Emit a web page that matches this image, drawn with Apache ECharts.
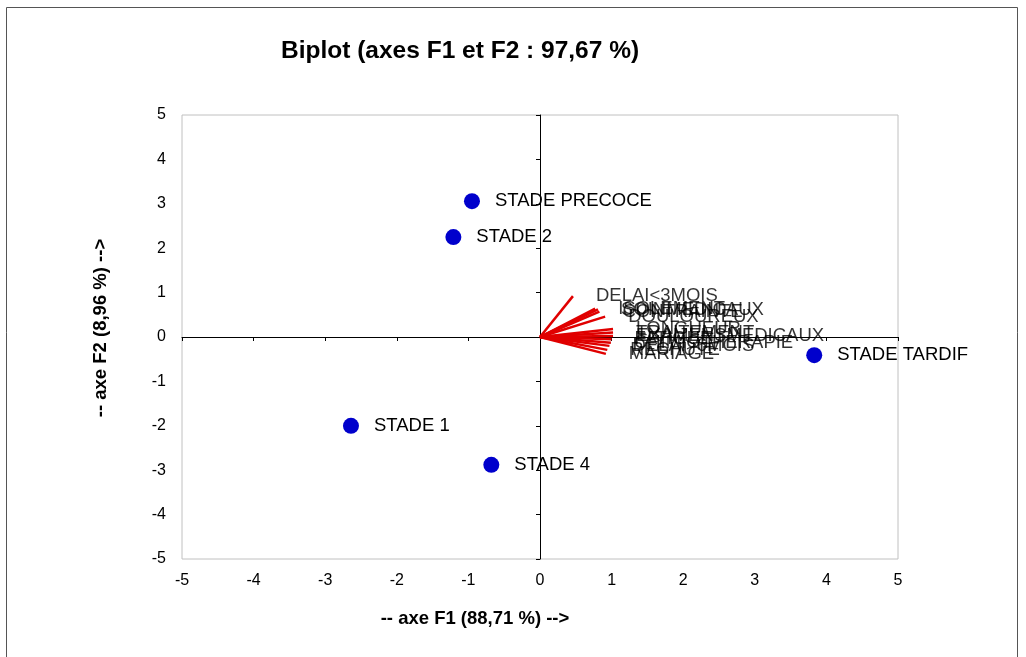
<!DOCTYPE html>
<html>
<head>
<meta charset="utf-8">
<script src="https://cdn.jsdelivr.net/npm/echarts@6/dist/echarts.min.js"></script>
<style>
  html, body { margin: 0; padding: 0; background: #fff; }
  #main { width: 1026px; height: 657px; }
</style>
</head>
<body>
<div id="main"></div>
<script>
// observations (points bleus)
var obsNames = ['STADE PRECOCE', 'STADE 2', 'STADE 1', 'STADE 4', 'STADE TARDIF'];
var obsF1 = [-0.95, -1.21, -2.64, -0.68, 3.83];
var obsF2 = [3.06, 2.25, -2.0, -2.88, -0.41];

// variables (vecteurs rouges)
var varNames = ['DELAI<3MOIS', 'SOINMEDICAUX', 'ISOLEMENT', 'CONTRAINTE', 'DOULOUREUX',
    'LONGUEUR', 'TRAITEMENT', 'EXAMENSMEDICAUX', 'FATIGUE', 'CHIMIOTHERAPIE',
    'DELAI>6MOIS', 'RECHUTE', 'MARIAGE'];
var varF1 = [0.46, 0.81, 0.77, 0.83, 0.91, 1.02, 1.02, 1.02, 1.0, 0.99, 0.97, 0.94, 0.92];
var varF2 = [0.92, 0.62, 0.64, 0.57, 0.46, 0.18, 0.10, 0.02, -0.05, -0.13, -0.20, -0.29, -0.38];

var ticks = { min: -5, max: 5, interval: 1 };

var vecLines = [];
var vecEnds = [];
for (var i = 0; i < varNames.length; i++) {
    vecLines.push({ coords: [[0, 0], [varF1[i], varF2[i]]] });
    vecEnds.push({ name: varNames[i], value: [varF1[i], varF2[i]] });
}
var obsData = [];
for (var j = 0; j < obsNames.length; j++) {
    obsData.push({ name: obsNames[j], value: [obsF1[j], obsF2[j]] });
}

var font = 'Arial, "Liberation Sans", sans-serif';

var myChart = echarts.init(document.getElementById('main'));
var option = {
    animation: false,
    textStyle: { fontFamily: font },
    title: {
        text: 'Biplot (axes F1 et F2 : 97,67 %)',
        left: 276,
        top: 34,
        textStyle: { fontSize: 24.5, fontWeight: 'bold', color: '#000', fontFamily: font }
    },
    graphic: [{
        type: 'rect',
        shape: { x: 6.5, y: 7.5, width: 1011, height: 670 },
        style: { fill: 'none', stroke: '#555', lineWidth: 1 },
        silent: true
    }],
    grid: {
        left: 182, right: 128, top: 115, bottom: 98,
        show: true, borderColor: '#c0c0c0', borderWidth: 1, backgroundColor: '#fff'
    },
    xAxis: [
        {
            type: 'value', min: ticks.min, max: ticks.max, interval: ticks.interval,
            position: 'bottom',
            axisLine: { show: false, onZero: false },
            axisTick: { show: false },
            splitLine: { show: false },
            axisLabel: { fontSize: 16, color: '#000', margin: 14, fontFamily: font },
            name: '-- axe F1 (88,71 %) -->',
            nameLocation: 'middle',
            nameGap: 50,
            nameTextStyle: { fontSize: 18.5, fontWeight: 'bold', color: '#000', padding: [0, 130, 0, 0], fontFamily: font }
        },
        {
            type: 'value', min: ticks.min, max: ticks.max, interval: ticks.interval,
            position: 'bottom',
            axisLine: { show: true, onZero: true, onZeroAxisIndex: 0, lineStyle: { color: '#000', width: 1 } },
            axisTick: { show: true, length: 4, lineStyle: { color: '#000' } },
            splitLine: { show: false },
            axisLabel: { show: false }
        }
    ],
    yAxis: [
        {
            type: 'value', min: ticks.min, max: ticks.max, interval: ticks.interval,
            position: 'left',
            axisLine: { show: false, onZero: false },
            axisTick: { show: false },
            splitLine: { show: false },
            axisLabel: { fontSize: 16, color: '#000', margin: 16, fontFamily: font },
            name: '-- axe F2 (8,96 %) -->',
            nameLocation: 'middle',
            nameGap: 72,
            nameTextStyle: { fontSize: 18.5, fontWeight: 'bold', color: '#000', padding: [0, 0, 0, 18], fontFamily: font }
        },
        {
            type: 'value', min: ticks.min, max: ticks.max, interval: ticks.interval,
            position: 'left',
            axisLine: { show: true, onZero: true, onZeroAxisIndex: 0, lineStyle: { color: '#000', width: 1 } },
            axisTick: { show: true, length: 4, lineStyle: { color: '#000' } },
            splitLine: { show: false },
            axisLabel: { show: false }
        }
    ],
    series: [
        {
            // vecteurs
            type: 'lines',
            coordinateSystem: 'cartesian2d',
            xAxisIndex: 0, yAxisIndex: 0,
            lineStyle: { color: '#e00000', width: 2.5, opacity: 1 },
            data: vecLines,
            z: 3
        },
        {
            // étiquettes des vecteurs
            type: 'scatter',
            xAxisIndex: 0, yAxisIndex: 0,
            symbolSize: 2,
            itemStyle: { color: 'rgba(0,0,0,0)' },
            label: {
                show: true, position: 'right', distance: 22,
                formatter: '{b}', fontSize: 18.5, color: '#000', fontFamily: font
            },
            data: vecEnds,
            z: 4
        },
        {
            // observations
            type: 'scatter',
            xAxisIndex: 0, yAxisIndex: 0,
            symbolSize: 16,
            itemStyle: { color: '#0000cc', opacity: 1 },
            label: {
                show: true, position: 'right', distance: 15,
                formatter: '{b}', fontSize: 18.5, color: '#000', fontFamily: font
            },
            data: obsData,
            z: 5
        }
    ]
};
myChart.setOption(option, true);
</script>
</body>
</html>
